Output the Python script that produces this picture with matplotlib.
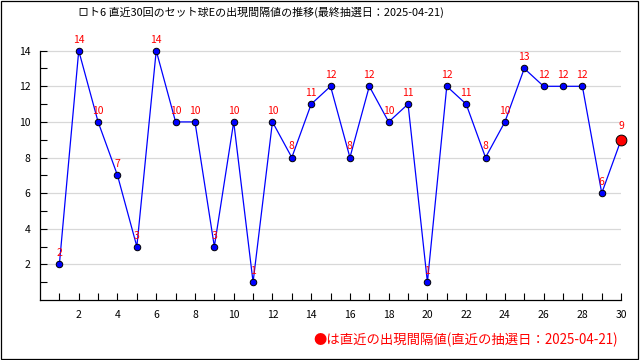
import matplotlib
matplotlib.use("Agg")
import matplotlib.pyplot as plt
from matplotlib.patches import Rectangle
from matplotlib.ticker import FixedLocator

plt.rcParams['font.family'] = ['Noto Sans CJK JP', 'DejaVu Sans']

draws = list(range(1, 31))
values = [2, 14, 10, 7, 3, 14, 10, 10, 3, 10, 1, 10, 8, 11, 12, 8, 12, 10, 11, 1,
          12, 11, 8, 10, 13, 12, 12, 12, 6, 9]
title = "ロト6 直近30回のセット球Eの出現間隔値の推移(最終抽選日：2025-04-21)"
note = "●は直近の出現間隔値(直近の抽選日：2025-04-21)"

fig = plt.figure(figsize=(6.4, 3.6), dpi=100)
fig.patches.append(Rectangle((0.6 / 640, 0.6 / 360), 637.8 / 640, 358.4 / 360,
                             transform=fig.transFigure, fill=False,
                             edgecolor='black', linewidth=0.9))
ax = fig.add_axes([0.0625, 0.1667, 0.908, 0.742])

ax.plot(draws, values, color='#0000ff', linewidth=0.9, zorder=2, clip_on=False)
ax.scatter(draws[:-1], values[:-1], s=22, color='#0000ff', edgecolor='black',
           linewidth=0.7, zorder=3, clip_on=False)
ax.scatter(draws[-1:], values[-1:], s=60, color='#ff0000', edgecolor='black',
           linewidth=0.7, zorder=4, clip_on=False)
for x, v in zip(draws, values):
    off = 0.62 if x != draws[-1] else 0.75
    ax.text(x, v + off, str(v), color='#ff0000', fontsize=7.5, ha='center',
            va='center', zorder=5)

ax.set_xlim(0, 30)
ax.set_ylim(0, 15)
ax.xaxis.set_minor_locator(FixedLocator(list(range(1, 30, 2))))
ax.yaxis.set_minor_locator(FixedLocator(list(range(1, 14, 2))))
ax.set_yticks([2, 4, 6, 8, 10, 12, 14])
ax.set_xticks(range(2, 31, 2))
ax.grid(axis='y', which='major', color='#d8d8d8', linewidth=0.9, zorder=0)
for s in ['top', 'right']:
    ax.spines[s].set_visible(False)
ax.spines['left'].set_bounds(0, 14)
ax.spines['left'].set_linewidth(0.9)
ax.spines['bottom'].set_linewidth(0.9)
ax.tick_params(which='both', direction='in', length=5, width=0.8)
ax.tick_params(axis='x', labelsize=7.5, pad=7)
ax.tick_params(axis='y', labelsize=7.5, pad=7)

fig.text(78 / 640, 0.965, title, ha='left', va='center', fontsize=7.9, color='#000000')
fig.text(618 / 640, 20 / 360, note, ha='right', va='center', fontsize=9.6, color='#ff0000')

fig.savefig('out.png', dpi=100)
